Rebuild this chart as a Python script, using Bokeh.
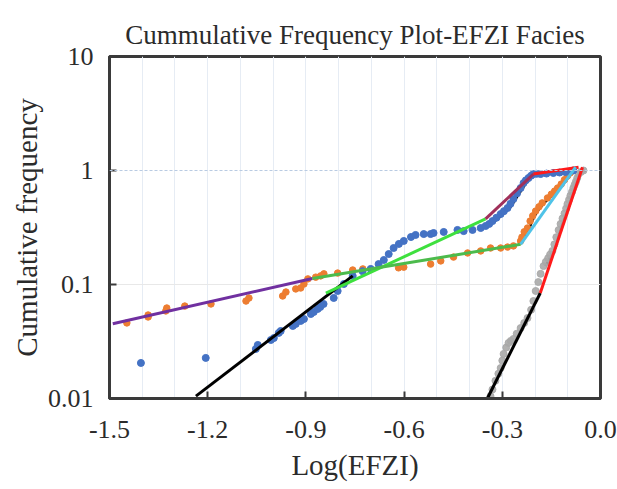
from bokeh.plotting import figure
from bokeh.models import FixedTicker, CustomJSTickFormatter, PrintfTickFormatter, Span, ColumnDataSource
from bokeh.transform import dodge
from bokeh.embed import file_html
from bokeh.resources import INLINE

# ---------------- data ----------------
blue_x = [-1.404, -1.206, -1.053, -1.047, -1.007, -0.998, -0.983, -0.977, -0.940, -0.931,
          -0.916, -0.906, -0.885, -0.876, -0.864, -0.856, -0.846, -0.815, -0.803, -0.784,
          -0.757, -0.727, -0.702, -0.678, -0.662, -0.647, -0.632, -0.616, -0.601, -0.579,
          -0.565, -0.540, -0.519, -0.510, -0.479, -0.437, -0.418, -0.391, -0.366, -0.351,
          -0.340, -0.330, -0.318, -0.305, -0.295, -0.284, -0.275, -0.266, -0.255, -0.244,
          -0.235, -0.228, -0.220, -0.212, -0.205, -0.195, -0.183, -0.165, -0.144, -0.125,
          -0.107, -0.095, -0.083]
blue_y = [0.0205, 0.0227, 0.0272, 0.0295, 0.0326, 0.0339, 0.0376, 0.0391, 0.0433, 0.0451,
          0.0479, 0.0498, 0.0551, 0.0574, 0.0610, 0.0635, 0.0675, 0.0762, 0.0877, 0.101,
          0.119, 0.131, 0.137, 0.151, 0.164, 0.185, 0.209, 0.227, 0.241, 0.261,
          0.272, 0.277, 0.277, 0.283, 0.289, 0.301, 0.294, 0.301, 0.313, 0.326,
          0.340, 0.360, 0.385, 0.415, 0.440, 0.469, 0.510, 0.562, 0.630, 0.702,
          0.776, 0.820, 0.859, 0.900, 0.931, 0.935, 0.931, 0.940, 0.951, 0.960,
          0.970, 0.980, 1.0]

orange_x = [-1.447, -1.382, -1.382, -1.328, -1.325, -1.270, -1.190, -1.083, -1.074, -0.971,
            -0.961, -0.931, -0.916, -0.906, -0.894, -0.870, -0.855, -0.845, -0.803, -0.757,
            -0.726, -0.617, -0.601, -0.519, -0.488, -0.449, -0.406, -0.366, -0.336, -0.305,
            -0.284, -0.266, -0.244, -0.240, -0.233, -0.223, -0.215, -0.207, -0.198, -0.188,
            -0.178, -0.162, -0.150, -0.140, -0.131, -0.120, -0.110, -0.101, -0.093, -0.086]
orange_y = [0.0460, 0.0519, 0.0540, 0.0586, 0.0622, 0.0647, 0.0675, 0.0716, 0.0761, 0.0793,
            0.0859, 0.0914, 0.0932, 0.101, 0.112, 0.116, 0.119, 0.124, 0.126, 0.134,
            0.137, 0.140, 0.142, 0.151, 0.161, 0.174, 0.189, 0.197, 0.209, 0.209,
            0.213, 0.218, 0.241, 0.260, 0.290, 0.313, 0.360, 0.400, 0.441, 0.480,
            0.520, 0.574, 0.620, 0.660, 0.702, 0.760, 0.830, 0.895, 0.950, 1.0]

gray_x = [-0.336, -0.330, -0.321, -0.312, -0.305, -0.300, -0.296, -0.288, -0.281, -0.274,
          -0.266, -0.256, -0.244, -0.233, -0.223, -0.212, -0.205, -0.198, -0.190, -0.183,
          -0.174, -0.167, -0.160, -0.154, -0.147, -0.141, -0.135, -0.128, -0.122, -0.116,
          -0.110, -0.105, -0.101, -0.096, -0.092, -0.087, -0.083, -0.079, -0.075, -0.071,
          -0.067, -0.060, -0.052]
gray_y = [0.0105, 0.0120, 0.0143, 0.0165, 0.0185, 0.0215, 0.0246, 0.0280, 0.0307, 0.0320,
          0.0333, 0.0370, 0.0415, 0.0460, 0.0508, 0.0600, 0.0716, 0.0877, 0.105, 0.124,
          0.145, 0.158, 0.170, 0.183, 0.197, 0.225, 0.260, 0.300, 0.340, 0.380,
          0.420, 0.465, 0.508, 0.555, 0.600, 0.650, 0.702, 0.750, 0.800, 0.860,
          0.931, 0.970, 1.0]

# fitted straight segments (end points)
fit_blue_low_x = [-1.236, -0.757]
fit_blue_low_y = [0.0105, 0.119]
fit_blue_mid_x = [-0.839, -0.351]
fit_blue_mid_y = [0.0842, 0.376]
fit_blue_high_x = [-0.351, -0.205]
fit_blue_high_y = [0.376, 0.930]
fit_blue_top_x = [-0.205, -0.067]
fit_blue_top_y = [0.930, 1.07]

fit_orange_low_x = [-1.490, -0.880]
fit_orange_low_y = [0.0453, 0.113]
fit_orange_mid_x = [-0.880, -0.244]
fit_orange_mid_y = [0.113, 0.225]
fit_orange_high_x = [-0.244, -0.076]
fit_orange_high_y = [0.225, 1.07]

fit_gray_low_x = [-0.345, -0.184]
fit_gray_low_y = [0.0101, 0.0842]
fit_gray_high_x = [-0.184, -0.055]
fit_gray_high_y = [0.0842, 1.07]

x_ticks = [-1.5, -1.2, -0.9, -0.6, -0.3, 0.0]
x_minor = [-1.4, -1.3, -1.1, -1.0, -0.8, -0.7, -0.5, -0.4, -0.2, -0.1]
y_ticks = [0.01, 0.1, 1, 10]

SERIF = "Liberation Serif"
TXT = "#2b2b2b"

p = figure(width=617, height=489, x_range=(-1.5, 0.0), y_range=(0.01, 10),
           y_axis_type="log", output_backend="svg", toolbar_location=None,
           min_border_left=109, min_border_right=17, min_border_top=56, min_border_bottom=91)

p.title.text = "Cummulative Frequency Plot-EFZI Facies"
p.title.text_font = SERIF
p.title.text_font_size = "27px"
p.title.text_font_style = "normal"
p.title.text_color = TXT
p.title.align = "center"
p.title.vertical_align = "top"
p.title.standoff = 10

p.outline_line_color = "#3a3a3a"
p.outline_line_width = 3
p.outline_line_alpha = 1
p.background_fill_color = "white"
p.border_fill_color = "white"

# axes
xa = p.xaxis[0]
xa.ticker = FixedTicker(ticks=x_ticks, minor_ticks=x_minor)
xa.formatter = PrintfTickFormatter(format="%.1f")
ya = p.yaxis[0]
ya.ticker = FixedTicker(ticks=y_ticks, minor_ticks=[])
ya.formatter = CustomJSTickFormatter(code="return tick.toString();")
for ax in (xa, ya):
    ax.axis_line_color = "#3a3a3a"
    ax.axis_line_width = 3
    ax.major_tick_in = 7
    ax.major_tick_out = 0
    ax.major_tick_line_color = "#3a3a3a"
    ax.major_tick_line_width = 2
    ax.minor_tick_line_color = None
    ax.major_label_text_font = SERIF
    ax.major_label_text_font_size = "26px"
    ax.major_label_text_color = TXT
    ax.axis_label_text_font = SERIF
    ax.axis_label_text_font_size = "29px"
    ax.axis_label_text_font_style = "normal"
    ax.axis_label_text_color = TXT
xa.axis_label = "Log(EFZI)"
ya.axis_label = "Cumulative frequency"
xa.major_label_standoff = 18
ya.major_label_standoff = 16
xa.axis_label_standoff = 8
ya.axis_label_standoff = 2

# grids
p.xgrid.grid_line_color = "#e6ecf4"
p.xgrid.minor_grid_line_color = "#e6ecf4"
p.xgrid.grid_line_width = 1
p.ygrid.ticker = FixedTicker(ticks=[0.1], minor_ticks=[])
p.ygrid.grid_line_color = "#e8e8e8"
p.add_layout(Span(location=1, dimension="width", line_color="#b9cbe2", line_width=1.2,
                  line_dash="3 2"))

blue_src = ColumnDataSource(dict(x=blue_x, y=blue_y))
orange_src = ColumnDataSource(dict(x=orange_x, y=orange_y))
gray_src = ColumnDataSource(dict(x=gray_x, y=gray_y))

# dark shadow lines under the upper part of each data series
p.line(x=dodge("x", 0.006), y="y", source=ColumnDataSource(dict(x=blue_x[39:], y=blue_y[39:])),
       line_color="black", line_width=3)
p.line(x=dodge("x", 0.006), y="y", source=ColumnDataSource(dict(x=orange_x[32:], y=orange_y[32:])),
       line_color="black", line_width=2.5)
p.line(x=dodge("x", 0.006), y="y", source=ColumnDataSource(dict(x=gray_x[20:], y=gray_y[20:])),
       line_color="black", line_width=2.5)

# data points
p.scatter("x", "y", source=gray_src, size=7, color="#a8a8a8", alpha=0.9)
p.scatter("x", "y", source=orange_src, size=6.5, color="#ed7d31")
p.scatter("x", "y", source=blue_src, size=7, color="#4472c4")

# fitted lines
LW = 3
p.line(fit_blue_low_x, fit_blue_low_y, line_color="black", line_width=LW)
p.line(fit_blue_mid_x, fit_blue_mid_y, line_color="#3ee03e", line_width=LW)
p.line(fit_blue_high_x, fit_blue_high_y, line_color="#a0305a", line_width=LW)
p.line(fit_blue_top_x, fit_blue_top_y, line_color="#ff1a1a", line_width=LW)
p.line(fit_orange_low_x, fit_orange_low_y, line_color="#7030a0", line_width=LW)
p.line(fit_orange_mid_x, fit_orange_mid_y, line_color="#4cbb4c", line_width=LW)
p.line(fit_orange_high_x, fit_orange_high_y, line_color="#4fc3e8", line_width=LW)
p.line(fit_gray_low_x, fit_gray_low_y, line_color="black", line_width=LW)
p.line(fit_gray_high_x, fit_gray_high_y, line_color="#ff1a1a", line_width=LW)

open("out.html", "w").write(file_html(p, INLINE))
